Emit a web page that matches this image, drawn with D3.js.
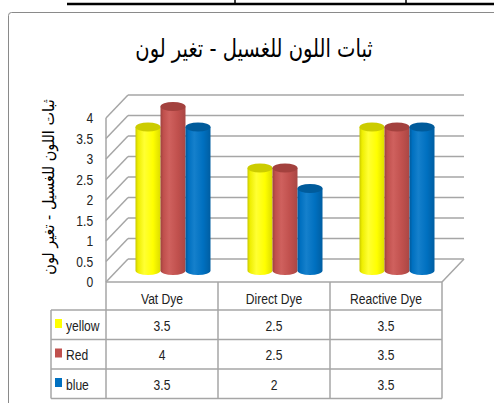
<!DOCTYPE html>
<html><head><meta charset="utf-8">
<script src="https://cdn.jsdelivr.net/npm/d3@7"></script>
<style>body{margin:0;background:#fff;} svg{display:block;}</style>
</head><body>
<svg id="c" width="494" height="403"></svg>
<script>
const categories = ["Vat Dye","Direct Dye","Reactive Dye"];
const seriesNames = ["yellow","Red","blue"];
const yellowValues = [3.5,2.5,3.5];
const redValues = [4,2.5,3.5];
const blueValues = [3.5,2,3.5];
const yTicks = [0,0.5,1,1.5,2,2.5,3,3.5,4];
const yTickLabels = ["0","0.5","1","1.5","2","2.5","3","3.5","4"];
const seriesColors = ["#ffff00","#c0504d","#0070c0"];
const titleText = "ثبات اللون للغسيل - تغير لون";
const yAxisTitle = "ثبات اللون للغسيل - تغير لون";

const series = [yellowValues, redValues, blueValues].map((v,i)=>({name:seriesNames[i], values:v, color:seriesColors[i]}));

const svg = d3.select("#c");
const sans = "'Liberation Sans',Arial,sans-serif";
const SX = 0.78;            // horizontal condensing to mimic Calibri
const FS = 15.5;
const gridColor = "#a6a6a6";

function narrowText(parent, x, yv, str, anchor){
  return parent.append("text").attr("transform",`translate(${x},${yv}) scale(${SX},1)`)
    .attr("text-anchor",anchor||"start").attr("font-family",sans).attr("font-size",FS)
    .attr("fill","#222").text(str);
}

// decorative line from page above
svg.append("line").attr("x1",67).attr("x2",494).attr("y1",4).attr("y2",4).attr("stroke","#000").attr("stroke-width",2.5);
[235,406].forEach(x=> svg.append("line").attr("x1",x).attr("x2",x).attr("y1",0).attr("y2",5).attr("stroke","#000").attr("stroke-width",1.5));

// chart area border
svg.append("rect").attr("x",8.5).attr("y",12.5).attr("width",520).attr("height",420).attr("rx",3)
  .attr("fill","none").attr("stroke","#8a8a8a");

// title
svg.append("text").attr("transform","translate(254,57) scale(0.78,1)").attr("text-anchor","middle")
  .attr("font-family","'DejaVu Sans',sans-serif").attr("font-size",25).attr("fill","#000").text(titleText);

// y axis title
svg.append("text").attr("transform","translate(54,187) rotate(-90) scale(0.9,1)").attr("text-anchor","middle")
  .attr("font-family","'DejaVu Sans',sans-serif").attr("font-size",16).attr("fill","#000").text(yAxisTitle);

const x0 = d3.scaleBand().domain(categories).range([106,442]);
const y = d3.scaleLinear().domain([0,4]).range([282,118]);
const dx = 22, dy = -23;

// walls
const g = svg.append("g");
yTicks.forEach(t=>{
  g.append("line").attr("x1",x0.range()[0]+dx).attr("x2",x0.range()[1]+dx)
    .attr("y1",y(t)+dy).attr("y2",y(t)+dy).attr("stroke",gridColor).attr("stroke-width",1.5);
  g.append("line").attr("x1",x0.range()[0]).attr("x2",x0.range()[0]+dx)
    .attr("y1",y(t)).attr("y2",y(t)+dy).attr("stroke",gridColor).attr("stroke-width",1.5);
});
g.append("line").attr("x1",106).attr("x2",106).attr("y1",y(4)).attr("y2",y(0)).attr("stroke",gridColor).attr("stroke-width",1.5);
// floor right edge
g.append("line").attr("x1",x0.range()[1]).attr("x2",x0.range()[1]+dx).attr("y1",y(0)).attr("y2",y(0)+dy).attr("stroke",gridColor).attr("stroke-width",1.5);

// y axis labels
const yAxis = d3.axisLeft(y).tickValues(yTicks).tickSize(0).tickPadding(16.5)
  .tickFormat((d,i)=>yTickLabels[i]);
const ya = svg.append("g").attr("transform","translate(106,0)").call(yAxis);
ya.select(".domain").remove();
ya.selectAll("text").attr("font-family",sans).attr("font-size",FS).attr("fill","#222")
  .attr("dy","0.32em").attr("transform",`scale(${SX},1)`);

// gradients
const defs = svg.append("defs");
const grads = {
  yellow: [["0%","#c8c800"],["10%","#eeee00"],["35%","#ffff33"],["70%","#ffff00"],["100%","#dcdc00"]],
  Red:    [["0%","#9e423f"],["12%","#c0504d"],["35%","#cf615e"],["70%","#c0504d"],["100%","#a94744"]],
  blue:   [["0%","#005a9c"],["12%","#0070c0"],["35%","#1580cc"],["70%","#0070c0"],["100%","#005ea2"]]
};
const topColors = {yellow:"#cccc00", Red:"#a3413e", blue:"#005b9b"};
Object.entries(grads).forEach(([k,stops])=>{
  const lg = defs.append("linearGradient").attr("id","g_"+k).attr("x1","0%").attr("x2","100%").attr("y1","0%").attr("y2","0%");
  stops.forEach(s=>lg.append("stop").attr("offset",s[0]).attr("stop-color",s[1]));
});

// bars (cylinders)
const groupW = 75;
const x1 = d3.scaleBand().domain(seriesNames).range([0,groupW]);
const bw = x1.bandwidth();
const rx = bw/2, ry = 4.5;
const bars = svg.append("g");
categories.forEach((c,ci)=>{
  series.forEach(s=>{
    const xl = x0(c) + (x0.bandwidth()-groupW)/2 + x1(s.name) + dx/2;
    const yb = y(0) + dy/2;
    const yt = y(s.values[ci]) + dy/2;
    bars.append("path")
      .attr("d",`M${xl},${yt} L${xl},${yb} A${rx},${ry} 0 0 0 ${xl+bw},${yb} L${xl+bw},${yt} Z`)
      .attr("fill",`url(#g_${s.name})`);
    bars.append("ellipse").attr("cx",xl+rx).attr("cy",yt).attr("rx",rx).attr("ry",ry)
      .attr("fill",topColors[s.name]);
  });
});

// data table
const tColor = "#a6a6a6";
const t = svg.append("g");
const left = 51, right = x0.range()[1];
const rowTop = y(0), rowH = [28, 29.5, 29.5, 29.5];
const rowY = [rowTop];
rowH.forEach((h,i)=>rowY.push(rowY[i]+h));
t.append("line").attr("x1",106).attr("x2",right).attr("y1",rowY[0]).attr("y2",rowY[0]).attr("stroke",tColor).attr("stroke-width",1.5);
for(let i=1;i<rowY.length;i++){
  t.append("line").attr("x1",left).attr("x2",right).attr("y1",rowY[i]).attr("y2",rowY[i]).attr("stroke",tColor).attr("stroke-width",1.5);
}
[106, ...categories.map(c=>x0(c)+x0.bandwidth())].forEach(xv=>{
  t.append("line").attr("x1",xv).attr("x2",xv).attr("y1",rowY[0]).attr("y2",rowY[4]).attr("stroke",tColor).attr("stroke-width",1.5);
});
t.append("line").attr("x1",left).attr("x2",left).attr("y1",rowY[1]).attr("y2",rowY[4]).attr("stroke",tColor).attr("stroke-width",1.5);

categories.forEach(c=>{
  narrowText(t, x0(c)+x0.bandwidth()/2, rowY[0]+21.5, c, "middle");
});
series.forEach((s,si)=>{
  const ry0 = rowY[si+1];
  t.append("rect").attr("x",55).attr("y",ry0+9).attr("width",7).attr("height",9).attr("fill",s.color);
  narrowText(t, 66, ry0+20.5, s.name, "start");
  s.values.forEach((v,ci)=>{
    narrowText(t, x0(categories[ci])+x0.bandwidth()/2, ry0+20.5, String(v), "middle");
  });
});
</script>
</body></html>
